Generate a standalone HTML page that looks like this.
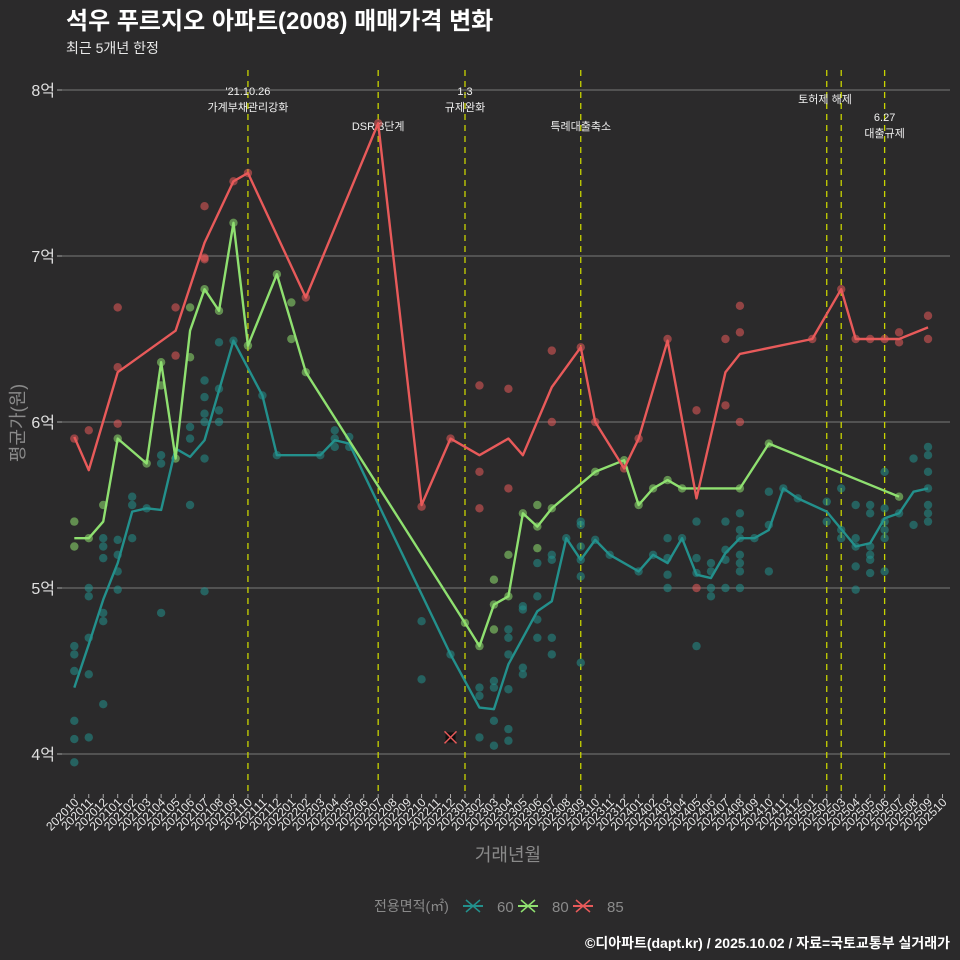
<!DOCTYPE html>
<html><head><meta charset="utf-8">
<style>
body{margin:0;background:#2b2a2b;}
svg{display:block;font-family:"Liberation Sans","Noto Sans CJK KR",sans-serif;}
</style></head>
<body>
<svg id="chart" width="960" height="960" viewBox="0 0 960 960" xmlns="http://www.w3.org/2000/svg">
<rect width="960" height="960" fill="#2b2a2b"/>
<text x="66" y="29" fill="#ffffff" font-size="24" font-weight="bold">석우 푸르지오 아파트(2008) 매매가격 변화</text>
<text x="66" y="53" fill="#e8e8e8" font-size="14">최근 5개년 한정</text>
<g id="grid"></g><g id="vlines"></g><g id="dots"></g><g id="lines"></g><g id="axes"></g>
<text transform="translate(24,423) rotate(-90)" text-anchor="middle" fill="#8a8a8a" font-size="18">평균가(원)</text>
<text x="508" y="861" text-anchor="middle" fill="#8a8a8a" font-size="18">거래년월</text>
<g>
<text x="374" y="911" fill="#8a8a8a" font-size="14">전용면적(㎡)</text>
<g><line x1="463" y1="906" x2="483" y2="906" stroke="#23908c" stroke-width="2"/><path d="M466,900 L480,912 M480,900 L466,912" stroke="#23908c" stroke-width="1.5"/><text x="497" y="912" fill="#8a8a8a" font-size="15">60</text></g>
<g><line x1="518" y1="906" x2="538" y2="906" stroke="#8fe070" stroke-width="2"/><path d="M521,900 L535,912 M535,900 L521,912" stroke="#8fe070" stroke-width="1.5"/><text x="552" y="912" fill="#8a8a8a" font-size="15">80</text></g>
<g><line x1="573" y1="906" x2="593" y2="906" stroke="#e85a5a" stroke-width="2"/><path d="M576,900 L590,912 M590,900 L576,912" stroke="#e85a5a" stroke-width="1.5"/><text x="607" y="912" fill="#8a8a8a" font-size="15">85</text></g>
</g>
<text x="950" y="948" text-anchor="end" fill="#ffffff" font-size="14" font-weight="bold">©디아파트(dapt.kr) / 2025.10.02 / 자료=국토교통부 실거래가</text>
</svg>
<script>
const months=["202010","202011","202012","202101","202102","202103","202104","202105","202106","202107","202108","202109","202110","202111","202112","202201","202202","202203","202204","202205","202206","202207","202208","202209","202210","202211","202212","202301","202302","202303","202304","202305","202306","202307","202308","202309","202310","202311","202312","202401","202402","202403","202404","202405","202406","202407","202408","202409","202410","202411","202412","202501","202502","202503","202504","202505","202506","202507","202508","202509","202510"];
const yTicks=[4,5,6,7,8];
const yTickLabels=["4억","5억","6억","7억","8억"];
const line60=[[0,4.40],[1,4.66],[2,4.93],[3,5.15],[4,5.46],[5,5.48],[6,5.47],[7,5.84],[8,5.79],[9,5.89],[11,6.49],[13,6.16],[14,5.80],[17,5.80],[18,5.89],[19,5.87],[26,4.60],[28,4.28],[29,4.27],[30,4.54],[32,4.86],[33,4.92],[34,5.30],[35,5.17],[36,5.29],[37,5.20],[39,5.10],[40,5.20],[41,5.15],[42,5.30],[43,5.08],[44,5.06],[45,5.21],[46,5.30],[47,5.30],[48,5.35],[49,5.60],[50,5.54],[52,5.46],[54,5.25],[55,5.27],[56,5.42],[57,5.45],[58,5.58],[59,5.60]];
const line80=[[0,5.30],[1,5.30],[2,5.40],[3,5.90],[5,5.75],[6,6.36],[7,5.78],[8,6.55],[9,6.80],[10,6.67],[11,7.20],[12,6.46],[14,6.89],[16,6.30],[27,4.79],[28,4.65],[29,4.90],[30,4.95],[31,5.45],[32,5.37],[33,5.48],[36,5.70],[38,5.77],[39,5.50],[40,5.60],[41,5.65],[42,5.60],[46,5.60],[48,5.87],[57,5.55]];
const line85=[[0,5.91],[1,5.71],[3,6.30],[7,6.55],[9,7.08],[11,7.45],[12,7.50],[16,6.75],[21,7.80],[24,5.50],[26,5.90],[28,5.80],[30,5.90],[31,5.80],[33,6.21],[35,6.45],[36,6.00],[38,5.72],[39,5.90],[41,6.49],[43,5.54],[45,6.30],[46,6.41],[51,6.50],[53,6.80],[54,6.50],[55,6.50],[56,6.50],[57,6.50],[59,6.57]];
const dots60=[[0,4.65],[0,4.60],[0,4.50],[0,4.20],[0,4.09],[0,3.95],[1,5.00],[1,4.95],[1,4.70],[1,4.48],[1,4.10],[2,5.30],[2,5.25],[2,5.18],[2,4.85],[2,4.80],[2,4.30],[3,5.29],[3,5.20],[3,5.10],[3,4.99],[4,5.55],[4,5.50],[4,5.30],[5,5.48],[6,5.80],[6,5.75],[6,4.85],[8,5.97],[8,5.90],[8,5.50],[9,6.25],[9,6.15],[9,6.05],[9,6.00],[9,5.78],[9,4.98],[10,6.48],[10,6.20],[10,6.07],[10,6.00],[11,6.49],[13,6.16],[14,5.80],[17,5.80],[18,5.95],[18,5.90],[18,5.85],[19,5.91],[19,5.85],[24,4.80],[24,4.45],[26,4.60],[28,4.40],[28,4.35],[28,4.10],[29,4.44],[29,4.40],[29,4.20],[29,4.05],[30,4.75],[30,4.70],[30,4.60],[30,4.39],[30,4.15],[30,4.08],[31,4.89],[31,4.87],[31,4.52],[31,4.48],[32,5.15],[32,4.95],[32,4.81],[32,4.70],[33,5.20],[33,5.17],[33,4.70],[33,4.60],[34,5.30],[35,5.40],[35,5.38],[35,5.25],[35,5.17],[35,5.07],[35,4.55],[36,5.29],[37,5.20],[39,5.10],[40,5.20],[41,5.30],[41,5.18],[41,5.08],[41,5.00],[42,5.30],[43,5.40],[43,5.18],[43,5.09],[43,4.65],[44,5.15],[44,5.10],[44,5.00],[44,4.95],[45,5.40],[45,5.23],[45,5.17],[45,5.00],[46,5.45],[46,5.35],[46,5.30],[46,5.20],[46,5.15],[46,5.10],[46,5.00],[47,5.30],[48,5.58],[48,5.38],[48,5.10],[49,5.60],[50,5.54],[52,5.52],[52,5.40],[53,5.60],[53,5.35],[53,5.30],[54,5.50],[54,5.30],[54,5.25],[54,5.13],[54,4.99],[55,5.50],[55,5.45],[55,5.25],[55,5.20],[55,5.17],[55,5.09],[56,5.70],[56,5.48],[56,5.40],[56,5.35],[56,5.30],[56,5.10],[57,5.45],[58,5.78],[58,5.38],[59,5.85],[59,5.80],[59,5.70],[59,5.60],[59,5.50],[59,5.45],[59,5.40]];
const dots80=[[0,5.40],[0,5.25],[1,5.30],[2,5.50],[3,5.90],[5,5.75],[6,6.36],[6,6.22],[7,5.78],[8,6.69],[8,6.39],[9,6.80],[10,6.67],[11,7.20],[12,6.46],[14,6.89],[15,6.72],[15,6.50],[16,6.30],[27,4.79],[28,4.65],[29,5.05],[29,4.75],[29,4.90],[30,5.20],[30,4.95],[31,5.45],[32,5.50],[32,5.24],[32,5.37],[33,5.48],[36,5.70],[38,5.77],[39,5.50],[40,5.60],[41,5.65],[42,5.60],[46,5.60],[48,5.87],[57,5.55]];
const dots85=[[0,5.90],[1,5.95],[3,6.69],[3,6.33],[3,5.99],[7,6.69],[7,6.40],[9,7.30],[9,6.99],[9,6.98],[11,7.45],[12,7.50],[16,6.75],[21,7.80],[24,5.49],[26,5.90],[28,6.22],[28,5.70],[28,5.48],[30,6.20],[30,5.60],[33,6.43],[33,6.00],[35,6.45],[36,6.00],[38,5.72],[39,5.90],[41,6.50],[43,6.07],[43,5.00],[45,6.50],[45,6.10],[46,6.70],[46,6.54],[46,6.00],[51,6.50],[53,6.80],[54,6.50],[55,6.50],[56,6.50],[57,6.54],[57,6.48],[59,6.64],[59,6.50]];
const policyMonths=["202110","202207","202301","202309","202502","202503","202506"];
const NS="http://www.w3.org/2000/svg";
function xs(i){return 74.3+i*14.47;}
function ys(v){return 754-(v-4)*166;}
function mk(tag,attrs,parent){const e=document.createElementNS(NS,tag);for(const k in attrs)e.setAttribute(k,attrs[k]);parent.appendChild(e);return e;}
const grid=document.getElementById('grid'),axes=document.getElementById('axes'),vl=document.getElementById('vlines'),dg=document.getElementById('dots'),lg=document.getElementById('lines');
yTicks.forEach((t,k)=>{
  const g=mk('line',{x1:62,x2:950,y1:ys(t),y2:ys(t),stroke:'#6a6a6a','stroke-width':1.2},grid);
  
  
  const tk=mk('line',{x1:57,x2:62,y1:ys(t),y2:ys(t),stroke:'#aaaaaa'},axes);
  
  
  const tx=mk('text',{x:55,y:ys(t)+6,'text-anchor':'end',fill:'#e0e0e0','font-size':16},axes);
  tx.textContent=yTickLabels[k];
  
  
});
months.forEach((m,i)=>{
  const tk=mk('line',{x1:xs(i),x2:xs(i),y1:794,y2:798,stroke:'#aaaaaa'},axes);
  
  
  const tx=mk('text',{x:0,y:0,'text-anchor':'end',fill:'#e8e8e8','font-size':12,transform:`translate(${xs(i)+5},${803}) rotate(-45)`},axes);
  tx.textContent=m;
  
  
});
policyMonths.forEach(m=>{
  const i=months.indexOf(m);
  const l=mk('line',{x1:xs(i),x2:xs(i),y1:70,y2:794,stroke:'#c8d400','stroke-width':1.3,'stroke-dasharray':'6,5'},vl);
  
  
});
const notes=[["202110",95,"'21.10.26"],["202110",111,"가계부채관리강화"],["202207",130,"DSR 3단계"],["202301",95,"1.3"],["202301",111,"규제완화"],["202309",130,"특례대출축소"],["202502",103,"토허제 해제"],["202506",121,"6.27"],["202506",137,"대출규제"]];
notes.forEach(n=>{
  const i=months.indexOf(n[0]);
  const t=mk('text',{x:n[0]==="202502"?825:xs(i),y:n[1],'text-anchor':'middle',fill:'#f0f0f0','font-size':11},vl);
  t.textContent=n[2];
  
  
});
const series=[[dots60,line60,'#23908c','60'],[dots80,line80,'#8fe070','80'],[dots85,line85,'#e85a5a','85']];
series.forEach(s=>{
  s[0].forEach(d=>{
    const c=mk('circle',{cx:xs(d[0]),cy:ys(d[1]),r:4.2,fill:s[2],'fill-opacity':0.55},dg);
    
    
  });
  const p=mk('polyline',{points:s[1].map(d=>xs(d[0])+','+ys(d[1])).join(' '),fill:'none',stroke:s[2],'stroke-width':2.4,'stroke-linejoin':'round'},lg);
  
  
});
const mx=xs(26),my=ys(4.1);
const m1=mk('rect',{x:mx-5,y:my-5,width:10,height:10,fill:'#111'},lg);


const m2=mk('path',{d:`M${mx-6},${my-6}L${mx+6},${my+6}M${mx+6},${my-6}L${mx-6},${my+6}`,stroke:'#e85a5a','stroke-width':1.5},lg);


</script>
</body></html>
